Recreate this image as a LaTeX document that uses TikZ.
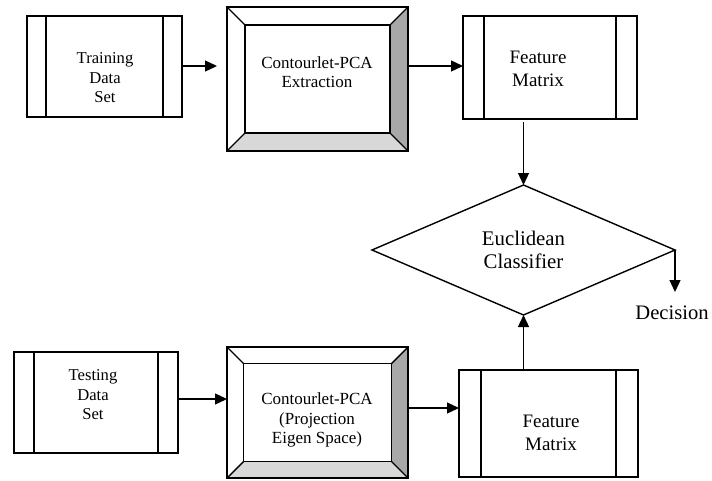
\documentclass[tikz,border=0pt]{standalone}
\usepackage{fontspec}
\setmainfont{Liberation Serif}
\usetikzlibrary{shapes.geometric,arrows.meta,calc}
\definecolor{darkbevel}{HTML}{A8A8A8}
\definecolor{lightbevel}{HTML}{D8D8D8}
\tikzset{
  base/.style={line width=1.4pt, draw=black},
  box/.style={base, rectangle, inner sep=0pt, outer sep=0pt},
  txt/.style={align=center, inner sep=0pt},
  arr/.style={line width=1.3pt, -{Triangle[length=12pt,width=11pt]}},
}
\newcommand{\procbars}[2]{%
  \draw[base] ([xshift=#2pt]#1.north west) -- ([xshift=#2pt]#1.south west);
  \draw[base] ([xshift=-#2pt]#1.north east) -- ([xshift=-#2pt]#1.south east);
}
\newcommand{\bevelbox}[2]{%
  \coordinate (#1-a) at ($(#1.north west)+(#2,#2)$);
  \coordinate (#1-b) at ($(#1.north east)+(-#2,#2)$);
  \coordinate (#1-c) at ($(#1.south east)+(-#2,-#2)$);
  \coordinate (#1-d) at ($(#1.south west)+(#2,-#2)$);
  \fill[darkbevel] (#1.north east) -- (#1.south east) -- (#1-c) -- (#1-b) -- cycle;
  \fill[lightbevel] (#1.south west) -- (#1.south east) -- (#1-c) -- (#1-d) -- cycle;
  \draw[base] (#1-a) -- (#1-b) -- (#1-c) -- (#1-d) -- cycle;
  \draw[base] (#1.north west) -- (#1-a) (#1.north east) -- (#1-b)
              (#1.south east) -- (#1-c) (#1.south west) -- (#1-d);
  \draw[base] (#1.north west) rectangle (#1.south east);
}
\begin{document}
\begin{tikzpicture}[x=1pt,y=-1pt]
\useasboundingbox (0,0) rectangle (712,480);

% top row
\node[box, minimum width=155pt, minimum height=101pt] (train) at (104.5,66.5) {};
\procbars{train}{19}
\node[txt, font=\fontsize{16.6}{19.5}\selectfont] (traintxt) at (105,78) {Training\\Data\\Set};

\node[box, minimum width=181pt, minimum height=144pt] (cpca1) at (317.5,79) {};
\bevelbox{cpca1}{18}
\node[txt, font=\fontsize{17}{19.5}\selectfont] (cpca1txt) at (317,72) {Contourlet-PCA\\Extraction};

\node[box, minimum width=174pt, minimum height=103pt] (feat1) at (550,67.5) {};
\procbars{feat1}{21}
\node[txt, font=\fontsize{19}{23}\selectfont] (feat1txt) at (538,69) {Feature\\Matrix};

% classifier
\node[base, diamond, minimum width=303pt, minimum height=130pt, inner sep=0pt, outer sep=0pt,
      align=center, font=\fontsize{20.8}{23.5}\selectfont] (eucl) at (523.5,250) {Euclidean\\Classifier};
\coordinate (dec) at (675,292);
\node[txt, font=\fontsize{20.6}{24}\selectfont] (decision) at (672,313) {Decision};

% bottom row
\node[box, minimum width=164pt, minimum height=101pt] (test) at (96,402.5) {};
\procbars{test}{20}
\node[txt, font=\fontsize{16.6}{19.5}\selectfont] (testtxt) at (93,395) {Testing\\Data\\Set};

\node[box, minimum width=181pt, minimum height=131pt] (cpca2) at (317.5,412.5) {};
\bevelbox{cpca2}{16.5}
\node[txt, font=\fontsize{17}{19.5}\selectfont] (cpca2txt) at (317,420) {Contourlet-PCA\\(Projection\\Eigen Space)};

\node[box, minimum width=179pt, minimum height=107pt] (feat2) at (548.5,423.5) {};
\procbars{feat2}{22}
\node[txt, font=\fontsize{19}{23}\selectfont] (feat2txt) at (551,433) {Feature\\Matrix};

% connectors
\draw[arr, shorten >=10pt] ([yshift=0.5pt]train.east) -- ([yshift=0.5pt]train.east -| cpca1.west);
\draw[arr] ([yshift=1.5pt]feat1.west -| cpca1.east) -- ([yshift=1.5pt]feat1.west);
\draw[arr, shorten <=3pt] (eucl.north |- feat1.south) -- (eucl.north);
\draw[arr] (eucl.east) -- (dec);
\draw[arr] ([yshift=3.5pt]test.east) -- ([yshift=3.5pt]test.east -| cpca2.west);
\draw[arr] ([yshift=15.5pt]feat2.west -| cpca2.east) -- ([yshift=15.5pt]feat2.west);
\draw[arr] (eucl.south |- feat2.north) -- (eucl.south);
\end{tikzpicture}
\end{document}
